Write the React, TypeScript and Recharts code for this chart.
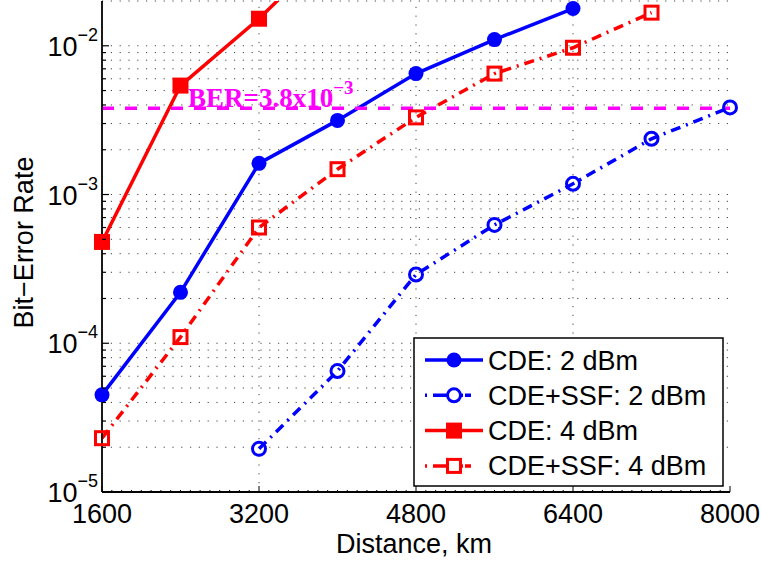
import {
  CartesianGrid,
  Legend,
  Line,
  LineChart,
  ReferenceLine,
  XAxis,
  YAxis,
} from "recharts";

const distances = [1600, 2400, 3200, 4000, 4800, 5600, 6400, 7200, 8000];
const cde2dBm = [4.5e-5, 2.2e-4, 1.62e-3, 3.15e-3, 6.5e-3, 1.1e-2, 1.78e-2, null, null];
const cdeSsf2dBm = [null, null, 1.95e-5, 6.5e-5, 2.9e-4, 6.25e-4, 1.18e-3, 2.37e-3, 3.85e-3];
const cde4dBm = [4.8e-4, 5.4e-3, 1.52e-2, 5e-2, null, null, null, null, null];
const cdeSsf4dBm = [2.3e-5, 1.1e-4, 6e-4, 1.48e-3, 3.3e-3, 6.5e-3, 9.7e-3, 1.67e-2, null];

const berLimit = 3.8e-3;
const xMajorTicks = [1600, 3200, 4800, 6400, 8000];
const decades = [1e-5, 1e-4, 1e-3, 1e-2];
const mantissas = [1, 2, 3, 4, 5, 6, 7, 8, 9];

const yTicks = decades.flatMap((d) => mantissas.map((m) => m * d)).filter((v) => v < 2e-2);
const xMinorTicks: number[] = [];
for (let v = 1600; v <= 8000; v += 100) xMinorTicks.push(v);

const data = distances.map((d, i) => ({
  distance: d,
  cde2: cde2dBm[i],
  ssf2: cdeSsf2dBm[i],
  cde4: cde4dBm[i],
  ssf4: cdeSsf4dBm[i],
}));

const FONT = "'Liberation Sans', Arial, Helvetica, sans-serif";
const BLUE = "#0000FF";
const RED = "#FF0000";
const DASHDOT = "10 6 2 6";

type Marker = "circle" | "openCircle" | "square" | "openSquare";

const series: { key: string; name: string; color: string; dash?: string; marker: Marker }[] = [
  { key: "cde2", name: "CDE: 2 dBm", color: BLUE, marker: "circle" },
  { key: "ssf2", name: "CDE+SSF: 2 dBm", color: BLUE, dash: DASHDOT, marker: "openCircle" },
  { key: "cde4", name: "CDE: 4 dBm", color: RED, marker: "square" },
  { key: "ssf4", name: "CDE+SSF: 4 dBm", color: RED, dash: DASHDOT, marker: "openSquare" },
];

function markerShape(marker: Marker, cx: number, cy: number, color: string, key?: string | number) {
  switch (marker) {
    case "circle":
      return <circle key={key} cx={cx} cy={cy} r={7.5} fill={color} />;
    case "openCircle":
      return <circle key={key} cx={cx} cy={cy} r={6.5} fill="none" stroke={color} strokeWidth={3} />;
    case "square":
      return <rect key={key} x={cx - 8} y={cy - 8} width={16} height={16} fill={color} />;
    default:
      return (
        <rect key={key} x={cx - 6.5} y={cy - 6.5} width={13} height={13} fill="none" stroke={color} strokeWidth={3} />
      );
  }
}

function makeDot(marker: Marker, color: string) {
  return (props: any) => {
    const { cx, cy, index, value } = props;
    if (cx == null || cy == null || value == null) return <g key={`d-${index}`} />;
    return markerShape(marker, cx, cy, color, `d-${index}`);
  };
}

function isMajorY(v: number) {
  const e = Math.log10(v);
  return Math.abs(e - Math.round(e)) < 1e-6;
}

function LeftTick(props: any) {
  const { x, y, payload } = props;
  const v = payload.value as number;
  const major = isMajorY(v);
  return (
    <g>
      <line x1={x} x2={x + (major ? 7 : 4)} y1={y} y2={y} stroke="#000" strokeWidth={1.2} />
      {major && (
        <text x={x - 4} y={y + 10} textAnchor="end" fontFamily={FONT} fontSize={27} fill="#000">
          <tspan>10</tspan>
          <tspan dy={-15} fontSize={18}>{`\u2212${Math.round(-Math.log10(v))}`}</tspan>
        </text>
      )}
    </g>
  );
}

function RightTick(props: any) {
  const { x, y, payload } = props;
  const major = isMajorY(payload.value);
  return <line x1={x} x2={x - (major ? 7 : 4)} y1={y} y2={y} stroke="#000" strokeWidth={1.2} />;
}

function BottomTick(props: any) {
  const { x, y, payload } = props;
  const v = payload.value as number;
  const major = v % 1600 === 0;
  return (
    <g>
      <line x1={x} x2={x} y1={y} y2={y - (major ? 6 : 2)} stroke="#000" strokeWidth={1} />
      {major && (
        <text x={x} y={y + 31} textAnchor="middle" fontFamily={FONT} fontSize={27} fill="#000">
          {v}
        </text>
      )}
    </g>
  );
}

function TopTick(props: any) {
  const { x, y } = props;
  return <line x1={x} x2={x} y1={y} y2={y + 6} stroke="#000" strokeWidth={1} />;
}

function LegendBox() {
  return (
    <svg width={311} height={150} style={{ display: "block" }}>
      <rect x={1} y={1} width={309} height={148} fill="#fff" stroke="#000" strokeWidth={1.5} />
      {series.map((s, i) => {
        const cy = 23 + i * 35.3;
        return (
          <g key={s.key}>
            <line x1={12} x2={70} y1={cy} y2={cy} stroke={s.color} strokeWidth={3.5} strokeDasharray={s.dash ? "2 6 14 14 2" : undefined} />
            {markerShape(s.marker, 41, cy, s.color)}
            <text x={75} y={cy + 9.5} fontFamily={FONT} fontSize={27} fill="#000">
              {s.name}
            </text>
          </g>
        );
      })}
    </svg>
  );
}

export default function App() {
  return (
    <div style={{ position: "absolute", left: 0, top: 0, background: "#fff" }}>
      <LineChart width={761} height={563} data={data} margin={{ top: 1, right: 31, left: 0, bottom: 0 }}>
        <CartesianGrid vertical={false} stroke="#444" strokeDasharray="1.2 7.6" strokeWidth={1} />
        {xMajorTicks.slice(1, -1).map((v) => (
          <ReferenceLine key={v} x={v} stroke="#444" strokeDasharray="1.2 7.6" strokeWidth={1} />
        ))}
        <XAxis
          dataKey="distance"
          type="number"
          domain={[1600, 8000]}
          ticks={xMinorTicks}
          interval={0}
          tick={<BottomTick />}
          tickLine={false}
          tickSize={0}
          tickMargin={0}
          height={71}
          axisLine={{ stroke: "#000", strokeWidth: 1.8 }}
          label={(p: any) => (
            <text
              x={p.viewBox.x + p.viewBox.width / 2 - 2}
              y={p.viewBox.y + 61}
              textAnchor="middle"
              fontFamily={FONT}
              fontSize={27}
              fill="#000"
            >
              Distance, km
            </text>
          )}
        />
        <XAxis
          xAxisId="top"
          orientation="top"
          dataKey="distance"
          type="number"
          domain={[1600, 8000]}
          ticks={xMajorTicks}
          interval={0}
          tick={<TopTick />}
          tickLine={false}
          tickSize={0}
          tickMargin={0}
          height={0}
          axisLine={{ stroke: "#000", strokeWidth: 1.8 }}
        />
        <YAxis
          type="number"
          scale="log"
          domain={[1e-5, 2e-2]}
          allowDataOverflow
          ticks={yTicks}
          interval={0}
          tick={<LeftTick />}
          tickLine={false}
          tickSize={0}
          tickMargin={0}
          width={102}
          axisLine={{ stroke: "#000", strokeWidth: 1.8 }}
          label={(p: any) => {
            const cx = 33;
            const cy = p.viewBox.y + p.viewBox.height / 2 - 4;
            return (
              <text
                x={cx}
                y={cy}
                transform={`rotate(-90 ${cx} ${cy})`}
                textAnchor="middle"
                fontFamily={FONT}
                fontSize={27}
                fill="#000"
              >
                Bit−Error Rate
              </text>
            );
          }}
        />
        <YAxis
          yAxisId="right"
          orientation="right"
          type="number"
          scale="log"
          domain={[1e-5, 2e-2]}
          allowDataOverflow
          ticks={yTicks}
          interval={0}
          tick={<RightTick />}
          tickLine={false}
          tickSize={0}
          tickMargin={0}
          width={0}
          axisLine={{ stroke: "#000", strokeWidth: 1.8 }}
        />
        {series.map((s) => (
          <Line
            key={s.key}
            dataKey={s.key}
            name={s.name}
            stroke={s.color}
            strokeWidth={3.5}
            strokeDasharray={s.dash}
            dot={makeDot(s.marker, s.color)}
            activeDot={false}
            isAnimationActive={false}
          />
        ))}
        <ReferenceLine
          y={berLimit}
          stroke="#FF00FF"
          strokeWidth={3.5}
          strokeDasharray="12 11"
          label={(p: any) => (
            <text
              x={p.viewBox.x + 86}
              y={p.viewBox.y - 1}
              fontFamily="'Liberation Serif', 'Times New Roman', serif"
              fontWeight="bold"
              fontSize={27}
              fill="#FF00FF"
            >
              <tspan>BER=3.8x10</tspan>
              <tspan dy={-13} fontSize={19}>−3</tspan>
            </text>
          )}
        />
        <Legend
          layout="horizontal"
          verticalAlign="middle"
          align="center"
          content={() => <LegendBox />}
          wrapperStyle={{ left: 413, top: 337, width: 311, height: 150 }}
        />
      </LineChart>
    </div>
  );
}
